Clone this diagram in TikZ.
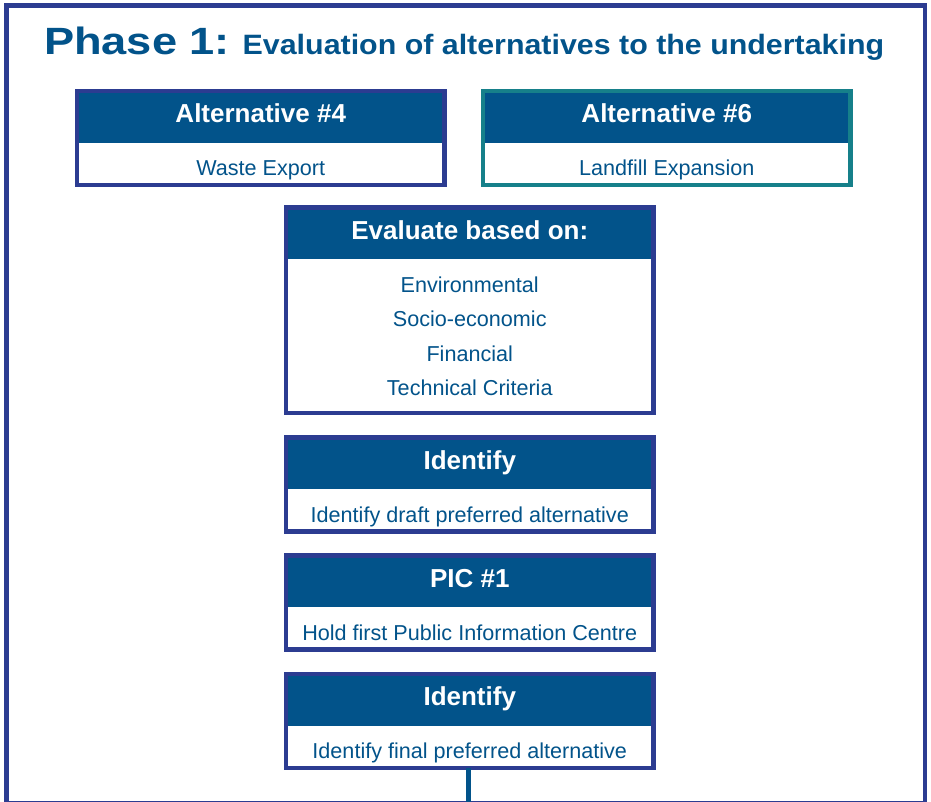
\documentclass[tikz,border=0pt]{standalone}
\usepackage{fontspec}
\usepackage{graphicx}
\setmainfont{Liberation Sans}
\definecolor{hdrblue}{RGB}{2,83,138}
\definecolor{navy}{RGB}{44,60,145}
\definecolor{tealb}{RGB}{22,128,138}
\tikzset{
  hdr/.style={fill=hdrblue, text=white, font=\fontsize{26}{30}\selectfont\bfseries,
    minimum width=367.5pt, minimum height=51.5pt, text height=31.5pt, text depth=20pt,
    inner sep=0pt, outer sep=0pt},
  bodytxt/.style={text=hdrblue, font=\fontsize{21.6}{25}\selectfont, inner sep=0pt},
  boxframe/.style={draw=navy, line width=4.2pt, minimum width=367.5pt, minimum height=94pt,
    inner sep=0pt, outer sep=0pt},
  conn/.style={draw=hdrblue, line width=4.5pt},
  outerframe/.style={draw=navy, line width=4.6pt},
  titletxt/.style={text=hdrblue, inner sep=0pt}
}
\newcommand{\stagebox}[6]{%
  \node[hdr, anchor=north west] (#1h) at (#2,#3) {#5};
  \node[bodytxt, anchor=base] (#1b) at ([yshift=-33pt]#1h.south) {#6};
  \node[boxframe, draw=#4, anchor=north west] (#1) at (#2,#3) {};
}
\begin{document}
\begin{tikzpicture}[x=1pt,y=-1pt]
\useasboundingbox (0,0) rectangle (931,801);
\draw[outerframe] (6.5,5.3) rectangle (925,802.8);
% title
\node[titletxt, anchor=base west] (t1) at (43.8,54.5)
  {\scalebox{1.19}[1]{\fontsize{38}{40}\selectfont\bfseries Phase 1:}};
\node[titletxt, anchor=base west] (t2) at (242.5,54.5)
  {\scalebox{1.085}[1]{\fontsize{28}{32}\selectfont\bfseries Evaluation of alternatives to the undertaking}};
% alternatives
\stagebox{alta}{77}{91.3}{navy}{Alternative \#4}{Waste Export}
\stagebox{altb}{483}{91.3}{tealb}{Alternative \#6}{Landfill Expansion}
% evaluate box
\node[hdr, anchor=north west] (evalh) at (286,207.5) {Evaluate based on:};
\node[bodytxt, anchor=base] (ev1) at (469.75,292.3) {Environmental};
\node[bodytxt, anchor=base] (ev2) at (469.75,326.7) {Socio-economic};
\node[bodytxt, anchor=base] (ev3) at (469.75,361) {Financial};
\node[bodytxt, anchor=base] (ev4) at (469.75,395.3) {Technical Criteria};
\node[boxframe, minimum height=205.7pt, anchor=north west] (eval) at (286,207.5) {};
% stages
\stagebox{ida}{286}{437.5}{navy}{Identify}{Identify draft preferred alternative}
\stagebox{pic}{286}{555.5}{navy}{PIC \#1}{Hold first Public Information Centre}
\stagebox{idb}{286}{674}{navy}{Identify}{Identify final preferred alternative}
% connector
\coordinate (bot) at (468.5,806);
\draw[conn] (idb.south -| bot) -- (bot);
\end{tikzpicture}
\end{document}
